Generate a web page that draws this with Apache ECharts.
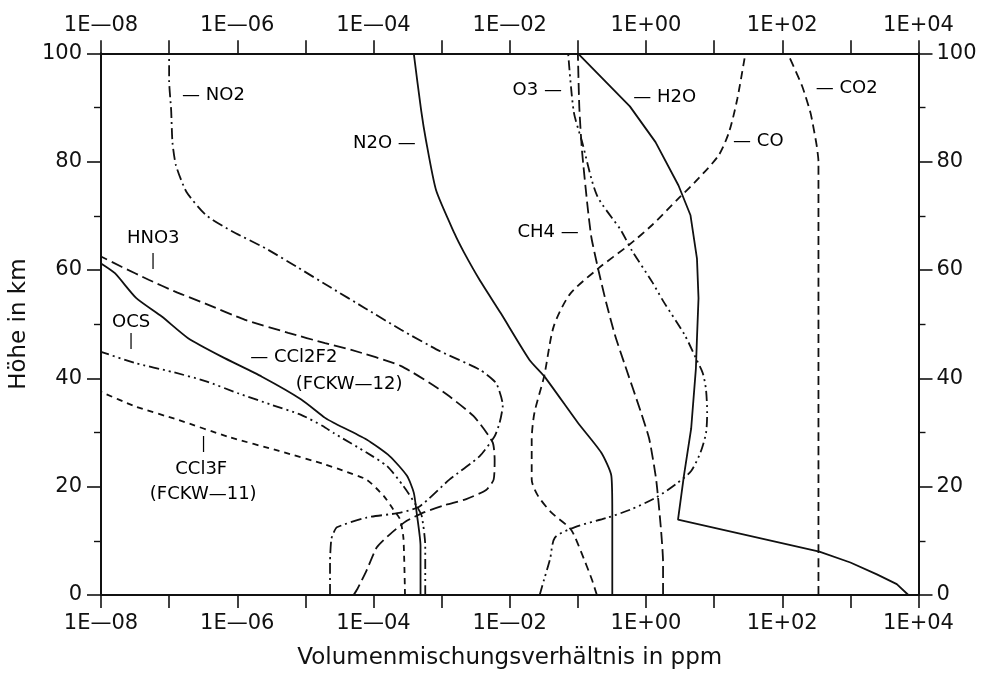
<!DOCTYPE html>
<html><head><meta charset="utf-8">
<script src="https://cdn.jsdelivr.net/npm/echarts@6/dist/echarts.min.js"></script>
<style>html,body{margin:0;padding:0;background:#fff}#c{width:986px;height:675px}</style>
</head><body><div id="c"></div>
<script>
// ---- data (heights in km, mixing ratios in ppm) ----
const NO2_km  = [0,6,10.3,11.5,12.5,14.3,15.2,16.4,21.3,25.6,29.3,31.8,35,39.1,41.6,45,49,53,56.7,60.4,64,67.1,70.1,74.4,79.3,83.5,89.6,95,100];
const NO2_ppm = [2.3e-5,2.3e-5,2.4e-5,2.6e-5,2.9e-5,7.9e-5,2.5e-4,4.8e-4,1.3e-3,3.6e-3,6.0e-3,7.1e-3,7.9e-3,6.3e-3,3.6e-3,9.5e-4,2.5e-4,7.4e-5,2.4e-5,7.9e-6,2.6e-6,8.5e-7,3.5e-7,1.8e-7,1.26e-7,1.12e-7,1.07e-7,1.0e-7,1.0e-7];

const HNO3_km  = [0,1.1,4.5,8.8,11.2,13.6,15.3,16.6,17.7,19.4,21.3,25,28.2,33,37.5,42.3,45.3,46.5,48.4,50.8,53.8,56,58.2,60.6,62.5];
const HNO3_ppm = [5.1e-5,5.8e-5,7.9e-5,1.12e-4,1.74e-4,3.0e-4,5.6e-4,1.12e-3,2.3e-3,4.5e-3,5.8e-3,6.0e-3,5.6e-3,2.95e-3,1.05e-3,2.5e-4,4.6e-5,1.95e-5,5.6e-6,1.3e-6,3.4e-7,1.23e-7,5.0e-8,2.0e-8,1.0e-8];

const OCS_km  = [0,9.1,14.6,16.4,20.1,23.8,26.3,29.9,31.2,33.3,35.1,37.2,39.5,41.2,42.8,44.9];
const OCS_ppm = [5.75e-4,5.75e-4,5.1e-4,4.3e-4,2.75e-4,1.58e-4,7.9e-5,2.6e-5,1.8e-5,8.5e-6,3.2e-6,1.05e-6,3.4e-7,1.1e-7,3.2e-8,1e-8];

const CCl2F2_km  = [0,9.1,15.2,18.9,22.0,25.6,28.7,31.8,32.7,36.1,40.3,44.0,47.4,51.4,54.8,59.4,61.2];
const CCl2F2_ppm = [4.9e-4,4.9e-4,4.3e-4,3.9e-4,3.1e-4,1.74e-4,7.9e-5,2.6e-5,1.95e-5,8.7e-6,2.3e-6,5.9e-7,1.9e-7,7.8e-8,3.3e-8,1.6e-8,1e-8];

const CCl3F_km  = [0,10.5,14,15.8,18.3,21.3,23,24.1,26.6,29.2,32.3,34.8,37.5];
const CCl3F_ppm = [2.9e-4,2.75e-4,2.45e-4,1.95e-4,1.41e-4,7.9e-5,3.5e-5,1.95e-5,4.1e-6,7.4e-7,1.38e-7,3.2e-8,1e-8];

const N2O_km  = [0,15.2,22,26.3,31.8,40.4,43.4,52,58.2,63.4,66.7,74.7,83.9,89.5,100];
const N2O_ppm = [0.32,0.32,0.31,0.22,0.1,0.032,0.0195,7.4e-3,3.6e-3,2.1e-3,1.55e-3,8.3e-4,5.9e-4,5.0e-4,3.9e-4];

const CO_km  = [0,2.9,7.9,12.1,15.2,18.3,21.3,28.7,33.6,40.4,49.5,55.5,60.3,64.6,68.3,73.2,76.9,81.2,85.5,91.6,100];
const CO_ppm = [0.19,0.16,0.112,0.079,0.041,0.026,0.021,0.021,0.023,0.032,0.044,0.076,0.2,0.56,1.23,3.0,5.9,11.7,16.6,21.9,28.8];

const CH4_km  = [0,6,12.1,21.3,28.7,33.6,42.8,48,54,60,66,72,82,90,100];
const CH4_ppm = [1.78,1.78,1.66,1.41,1.12,0.85,0.48,0.35,0.26,0.2,0.158,0.138,0.115,0.105,0.1];

const O3_km  = [0,2.9,6.6,10.6,12.5,14.3,15.8,18,20.7,22.9,26.3,29.9,33.6,37.9,41,43.7,48,54.3,57.8,63.6,67.3,73.8,83.7,89.2,100];
const O3_ppm = [0.0275,0.032,0.039,0.046,0.089,0.275,0.6,1.41,2.9,4.6,6.3,7.6,7.9,7.6,6.8,5.4,3.7,1.78,1.23,0.62,0.43,0.19,0.115,0.087,0.072];

const H2O_km  = [0,2,3.8,6,8,13.9,22,30.7,41.8,47.4,54.8,62.1,70.1,75.6,83.6,90.2,100];
const H2O_ppm = [7100,4800,2450,1000,350,2.95,3.6,4.6,5.4,5.6,5.9,5.6,4.5,3.0,1.38,0.58,0.1];

const CO2_km  = [0,80,83,86,89,94,100];
const CO2_ppm = [340,340,320,290,260,195,120];

// tick labels
const yTicks = [0,20,40,60,80,100];
const xDecades = [-8,-6,-4,-2,0,2,4];

// curve annotations
const labelTexts = ['— NO2','N2O —','HNO3','|','OCS','|','— CCl2F2','(FCKW—12)','|','CCl3F','(FCKW—11)','O3 —','— H2O','— CO','— CO2','CH4 —'];
const labelPpm   = [1.55e-7,5.0e-5,2.4e-8,5.8e-8,1.45e-8,2.75e-8,1.55e-6,7.2e-6,3.2e-7,1.23e-7,5.2e-8,0.011,0.65,19,310,0.013];
const labelKm    = [92.3,83.4,65.9,61.6,50.3,46.8,43.8,38.9,27.8,23.2,18.6,93.2,91.9,83.8,93.6,67.0];

// ---- chart ----
const FONT = 'DejaVu Sans';
const INK = '#000';
function zip(x, y){ return x.map((v,i)=>[v, y[i]]); }
function fmtX(v){
  const e = Math.round(Math.log10(v));
  if (xDecades.indexOf(e) < 0) return '';
  const a = Math.abs(e);
  return '1E' + (e < 0 ? '—' : '+') + (a < 10 ? '0' : '') + a;
}
function line(name, km, ppm, dash, smooth){
  return { name, type:'line', data: zip(ppm, km), showSymbol:false, symbol:'none',
    smooth: smooth, lineStyle:{ color: '#111', width: 1.8, type: dash }, z: 3, silent: true };
}
const xBase = {
  type:'log', logBase:10, min:1e-8, max:1e4, interval:1, splitNumber:12,
  axisLine:{ show:true, onZero:false, lineStyle:{ color: '#111', width: 2 } },
  axisTick:{ show:true, length:13, inside:false, lineStyle:{ color: '#111', width: 1.6 } },
  axisLabel:{ formatter: fmtX, fontFamily: FONT, fontSize: 21, color: '#111', margin: 18 },
  splitLine:{ show:false }, minorTick:{ show:false }
};
const yBase = {
  type:'value', min:0, max:100, interval:20,
  axisLine:{ show:true, onZero:false, lineStyle:{ color: '#111', width: 2 } },
  axisTick:{ show:true, length:14, inside:false, lineStyle:{ color: '#111', width: 1.6 } },
  minorTick:{ show:true, splitNumber:2, length:7, lineStyle:{ color: '#111', width: 1.4 } },
  axisLabel:{ fontFamily: FONT, fontSize: 21, color: '#111', margin: 19,
    formatter: v => yTicks.indexOf(v) >= 0 ? String(v) : '' },
  splitLine:{ show:false }
};
const chart = echarts.init(document.getElementById('c'), null, { renderer:'canvas' });
chart.setOption({
  animation:false,
  backgroundColor:'#ffffff',
  grid:{ left:101, right:67.5, top:53.3, bottom:79.3, containLabel:false },
  xAxis:[
    Object.assign({}, xBase, { position:'bottom', name:'Volumenmischungsverhältnis in ppm',
      nameLocation:'middle', nameGap:52, nameTextStyle:{ fontFamily: FONT, fontSize: 23, color: '#111' } }),
    Object.assign({}, xBase, { position:'top', axisLabel: Object.assign({}, xBase.axisLabel, { margin: 17 }) })
  ],
  yAxis:[
    Object.assign({}, yBase, { position:'left', name:'Höhe in km', nameLocation:'middle', nameGap:61,
      nameTextStyle:{ fontFamily: FONT, fontSize: 23, color: '#111' } }),
    Object.assign({}, yBase, { position:'right', axisLabel: Object.assign({}, yBase.axisLabel, { margin: 18 }) })
  ],
  series:[
    line('NO2', NO2_km, NO2_ppm, [11,4,2,4], 0.2),
    line('HNO3', HNO3_km, HNO3_ppm, [12,5], 0.2),
    line('OCS', OCS_km, OCS_ppm, [10,4,2,4,2,4], 0.2),
    line('CCl2F2', CCl2F2_km, CCl2F2_ppm, 'solid', 0.2),
    line('CCl3F', CCl3F_km, CCl3F_ppm, [6,5], 0.2),
    line('N2O', N2O_km, N2O_ppm, 'solid', 0.2),
    line('CO', CO_km, CO_ppm, [8,5], 0.25),
    line('CH4', CH4_km, CH4_ppm, [12,5], 0.2),
    line('O3', O3_km, O3_ppm, [10,4,2,4,2,4], 0.25),
    line('H2O', H2O_km, H2O_ppm, 'solid', false),
    line('CO2', CO2_km, CO2_ppm, [9,5], 0.2),
    {
      type:'scatter', symbol:'circle', symbolSize:0, z:5, silent:true,
      data: labelTexts.map((t,i)=>({ name:t, value:[labelPpm[i], labelKm[i]],
        label: t === '|' ? { position:'inside', fontSize:15 } : {} })),
      label:{ show:true, position:'right', distance:0, formatter: p => p.name,
        fontFamily: FONT, fontSize: 18, color: INK, opacity: 1 },
      itemStyle:{ color: INK }
    }
  ]
});
</script></body></html>
